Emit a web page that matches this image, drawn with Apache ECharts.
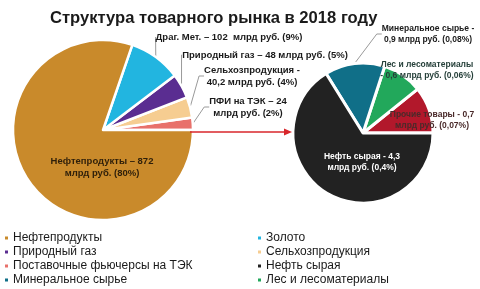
<!DOCTYPE html>
<html><head><meta charset="utf-8">
<script src="https://cdn.jsdelivr.net/npm/echarts@6/dist/echarts.min.js"></script>
<style>html,body{margin:0;padding:0;background:#fff}#c{width:480px;height:289px}</style>
</head><body><div id="c"></div>
<script>
const titleText = 'Структура товарного рынка в 2018 году';
// Left pie (млрд руб.)
const leftNames = ['Поставочные фьючерсы на ТЭК', 'Сельхозпродукция', 'Природный газ', 'Золото', 'Нефтепродукты'];
const leftValues = [24, 40.2, 48, 102, 872];
const leftLabels = ['ПФИ на ТЭК – 24\nмлрд руб. (2%)', 'Сельхозпродукция -\n40,2 млрд руб. (4%)', 'Природный газ – 48 млрд руб. (5%)', 'Драг. Мет. – 102  млрд руб. (9%)', 'Нефтепродукты – 872\nмлрд руб. (80%)'];
const leftColors = ['#E8716B', '#F6CD91', '#5A2D91', '#22B5E0', '#C98A2B'];
// Right pie (breakdown)
const rightNames = ['Прочие товары', 'Лес и лесоматериалы', 'Минеральное сырье', 'Нефть сырая'];
const rightValues = [0.7, 0.6, 0.9, 4.3];
const rightLabels = ['Прочие товары - 0,7\nмлрд руб. (0,07%)', 'Лес и лесоматериалы\n- 0,6 млрд руб. (0,06%)', 'Минеральное сырье -\n0,9 млрд руб. (0,08%)', 'Нефть сырая - 4,3\nмлрд руб. (0,4%)'];
const rightColors = ['#B2182B', '#22A85B', '#106F88', '#222222'];
const legendLeft = ['Нефтепродукты', 'Природный газ', 'Поставочные фьючерсы на ТЭК', 'Минеральное сырье'];
const legendRight = ['Золото', 'Сельхозпродукция', 'Нефть сырая', 'Лес и лесоматериалы'];

// label placement (positions only)
const leftLabelPos = [[248, 107], [252, 76], [265, 55], [229, 37], [102, 167]];
const rightLabelPos = [[432, 120], [427, 70], [428, 34], [362, 162]];
const FONT = '"Liberation Sans", Arial, sans-serif';

const chart = echarts.init(document.getElementById('c'), null, {renderer: 'canvas'});

function mkData(names, values, labels, colors, inner) {
  return names.map((n, i) => ({
    name: n, value: values[i],
    itemStyle: {color: colors[i]},
    label: inner[i] ? {position: 'inside'} : {},
    labelLine: {show: !inner[i]},
    _lbl: labels[i]
  }));
}
const leftData = mkData(leftNames, leftValues, leftLabels, leftColors, [0,0,0,0,1]);
leftData[4].label.color = '#2e1f0a';
const rightData = mkData(rightNames, rightValues, rightLabels, rightColors, [1,1,0,1]);
rightData[0].label.color = '#4a2a2a';
rightData[1].label.color = '#26403a';
rightData[3].label.color = '#ffffff';

chart.setOption({
  animation: false,
  title: {text: titleText, left: 45, top: 5, textStyle: {fontFamily: FONT, fontSize: 16.6, fontWeight: 'bold', color: '#1a1a1a'}},
  legend: [
    {data: legendLeft, orient: 'vertical', left: 3, top: 232, padding: 0, itemGap: 2, itemWidth: 5, itemHeight: 5, icon: 'rect',
     textStyle: {fontFamily: FONT, fontSize: 12, color: '#1a1a1a', padding: [0,0,0,-1]}},
    {data: legendRight, orient: 'vertical', left: 256, top: 232, padding: 0, itemGap: 2, itemWidth: 5, itemHeight: 5, icon: 'rect',
     textStyle: {fontFamily: FONT, fontSize: 12, color: '#1a1a1a', padding: [0,0,0,-1]}}
  ],
  series: [
    {type: 'pie', center: [103, 130], radius: [0, 90], startAngle: 0, clockwise: false,
     data: leftData, silent: true,
     itemStyle: {borderColor: '#fff', borderWidth: 2.5},
     label: {formatter: p => p.data._lbl, fontFamily: FONT, fontSize: 9.5, fontWeight: 'bold', color: '#1a1a1a', lineHeight: 12, align: 'center'},
     labelLine: {lineStyle: {color: '#999', width: 1}, length: 5, length2: 5},
     labelLayout: p => ({x: leftLabelPos[p.dataIndex][0], y: leftLabelPos[p.dataIndex][1], align: 'center', verticalAlign: 'middle'})
    },
    {type: 'pie', center: [363, 133], radius: [0, 70], startAngle: 0, clockwise: false,
     data: rightData, silent: true,
     itemStyle: {borderColor: '#fff', borderWidth: 3},
     label: {formatter: p => p.data._lbl, fontFamily: FONT, fontSize: 8.5, fontWeight: 'bold', color: '#1a1a1a', lineHeight: 10.5, align: 'center'},
     labelLine: {lineStyle: {color: '#999', width: 1}, length: 5, length2: 5},
     labelLayout: p => ({x: rightLabelPos[p.dataIndex][0], y: rightLabelPos[p.dataIndex][1], align: 'center', verticalAlign: 'middle'})
    }
  ],
  graphic: [
    {type: 'line', shape: {x1: 190, y1: 132, x2: 286, y2: 132}, style: {stroke: '#D8262B', lineWidth: 1.5}, z: 10},
    {type: 'polygon', shape: {points: [[284, 128.5], [292, 132], [284, 135.5]]}, style: {fill: '#D8262B'}, z: 10}
  ]
});
</script></body></html>
